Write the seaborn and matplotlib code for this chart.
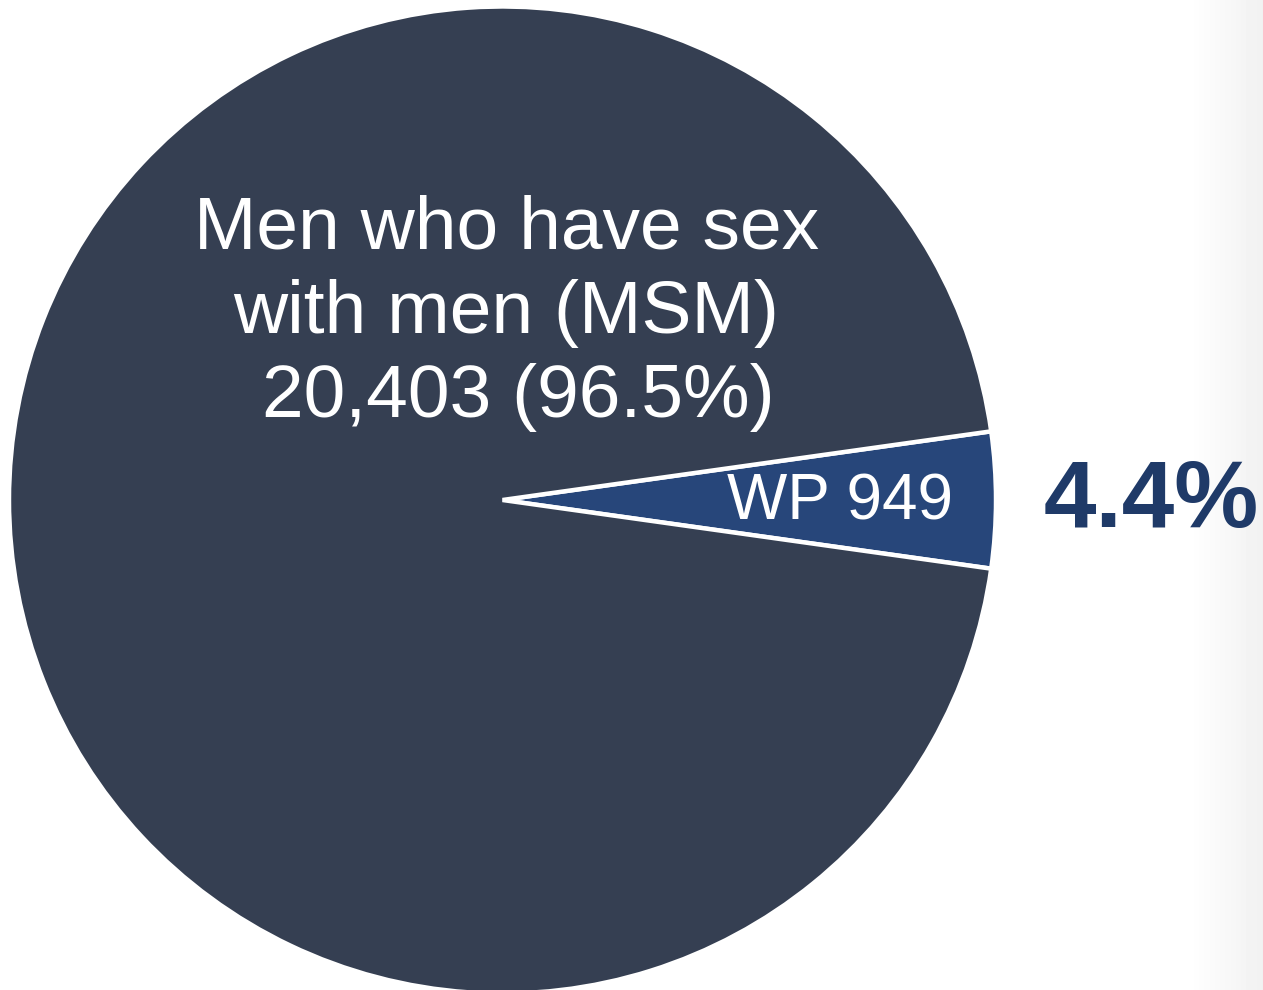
import numpy as np
import matplotlib
matplotlib.use("Agg")
import matplotlib.pyplot as plt
import seaborn as sns

# data
groups = ["WP", "Men who have sex with men (MSM)"]
counts = [949, 20403]
shares = [4.4, 96.5]
colors = ["#27467a", "#353f52"]

sns.set_style("white")
plt.rcParams["font.family"] = ["Liberation Sans", "DejaVu Sans"]

W, H = 1263, 990
fig = plt.figure(figsize=(W / 100, H / 100), dpi=100)

# faint grey strip on the right edge (screenshot edge)
bg = fig.add_axes([1188 / W, 0, (W - 1188) / W, 1], zorder=-1)
grad = np.linspace(1.0, 0.945, 75)
bg.imshow(np.tile(grad, (2, 1)), cmap="gray", vmin=0, vmax=1, aspect="auto")
bg.axis("off")

ax = fig.add_axes([0, 0, 1, 1])
ax.patch.set_alpha(0)
cx, cy, r = 502.5, 500, 493.5

wedges, _ = ax.pie(counts, colors=colors, startangle=-8.0, counterclock=True,
                   wedgeprops=dict(edgecolor="white", linewidth=3.2))
ax.set_xlim(-cx / r, (W - cx) / r)
ax.set_ylim(-(H - cy) / r, cy / r)
ax.set_aspect("equal")
ax.axis("off")

def px(x, y):
    return x / W, 1 - y / H

msm_lines = ["Men who have sex", "with men (MSM)",
             f"{counts[1]:,} ({shares[1]}%)"]
for txt, (x, y) in zip(msm_lines, [(507, 229), (506, 314), (518, 398)]):
    ax.text(*px(x, y), txt, transform=fig.transFigure, ha="center", va="center",
            color="white", fontsize=54)

ax.text(*px(840, 503), f"{groups[0]} {counts[0]}", transform=fig.transFigure,
        ha="center", va="center", color="white", fontsize=46)
ax.text(*px(1151, 502), f"{shares[0]}%", transform=fig.transFigure,
        ha="center", va="center", color="#1f3a68", fontsize=68, fontweight="bold")

fig.savefig("out.png", dpi=100)
